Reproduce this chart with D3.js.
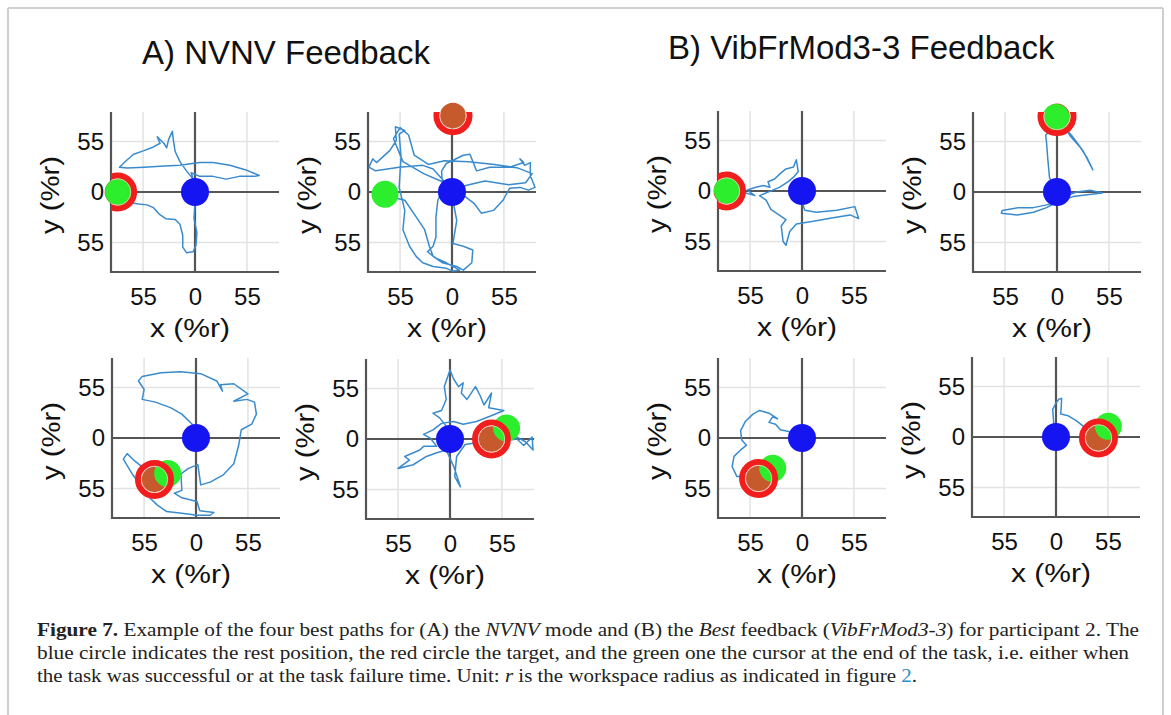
<!DOCTYPE html>
<html>
<head>
<meta charset="utf-8">
<script src="https://cdn.jsdelivr.net/npm/d3@7"></script>
<style>
  body { margin: 0; background: #fff; }
  svg { display: block; }
</style>
</head>
<body>
<svg id="chart" width="1171" height="715"></svg>
<script>
// ---------------- DATA ----------------
const groupTitles = ["A) NVNV Feedback", "B) VibFrMod3-3 Feedback"];
const panelNames = ["A1", "A2", "A3", "A4", "B1", "B2", "B3", "B4"];
const xTicks = [-55, 0, 55];
const yTicks = [-55, 0, 55];
const xTickLabels = ["55", "0", "55"];
const yTickLabels = ["55", "0", "55"];
const xLabel = "x (%r)";
const yLabel = "y (%r)";
const restPos = [0, 0];

// target (red ring) and final cursor (green) positions, in %r
const targets = [[-82, 0], [1, 83], [-44, -45], [44, 0], [-80, 0], [0, 82], [-46, -44], [45, -1]];
const cursors = [[-81, 0], [-71, -2.5], [-30, -38.5], [60, 12], [-79, 0.7], [-1, 81], [-31, -33], [55.5, 11.6]];

const pathA1 = [[0,0],[-2,14],[-9,23],[-16,33],[-21,44],[-23,57],[-24,66],[-28,57],[-30,48],[-33,53],[-40,60],[-37,53],[-44,49],[-54,45],[-65,41],[-73,34],[-80,27],[-72,26],[-54,27],[-37,28],[-16,29],[5,32],[19,32],[37,29],[54,24],[68,18],[63,17],[47,17],[33,14],[19,17],[5,17],[-4,21],[0,7],[0,-12],[-1,-29],[2,-44],[1,-58],[-2,-65],[-9,-66],[-13,-60],[-13,-47],[-16,-35],[-21,-30],[-31,-29],[-38,-24],[-44,-17],[-51,-14],[-60,-13],[-66,-12],[-76,-5],[-81,0]];

const pathA2 = [[0,0],[-6,9],[-20,25],[-31,29],[-56,27],[-81,23],[-88,27],[-84,36],[-80,32],[-66,45],[-59,56],[-60,71],[-50,67],[-56,63],[-54,38],[-56,5],[-50,-20],[-52,-41],[-45,-59],[-38,-70],[-31,-77],[-20,-81],[-6,-83],[1,-86],[8,-85],[-6,-77],[-17,-72],[-26,-65],[-20,-59],[-17,-49],[-17,-27],[-15,-9],[-10,2],[-11,23],[-6,31],[12,40],[19,41],[26,23],[40,27],[61,27],[76,32],[72,36],[77,29],[83,32],[83,18],[88,5],[81,2],[72,5],[61,4],[54,-9],[44,-20],[31,-23],[24,-13],[14,-5],[5,-2],[-12,12],[-30,20],[-52,33],[-62,58],[-55,70],[-46,62],[-40,40],[-25,30],[-8,34],[18,33],[45,30],[70,26],[85,20],[78,10],[60,8],[35,12],[10,6],[1,-9],[5,-31],[1,-56],[12,-59],[22,-63],[21,-77],[12,-85],[5,-81],[-10,-77],[-20,-70],[-24,-59],[-29,-41],[-38,-27],[-50,-9],[-70,-4],[-84,-2],[-71,-2.5]];

const pathA3 = [[0,0],[-4,15],[-15,26],[-27,33],[-43,39],[-57,42],[-55,53],[-61,62],[-57,67],[-37,71],[-16,72],[5,70],[22,62],[28,51],[26,58],[40,59],[55,48],[40,40],[54,42],[62,39],[64,26],[59,15],[48,9],[45,-9],[40,-28],[29,-40],[15,-48],[5,-51],[2,-29],[-8,-33],[-16,-39],[-15,-57],[-23,-60],[-15,-65],[1,-69],[4,-79],[19,-81],[15,-84],[1,-84],[-13,-82],[-31,-80],[-41,-73],[-52,-62],[-59,-51],[-67,-40],[-77,-23],[-73,-17],[-66,-24],[-55,-33],[-41,-37],[-30,-38.5]];

const pathA4 = [[0,0],[-4,14],[-11,23],[-18,28],[-9,31],[-4,43],[-6,57],[0,75],[4,65],[9,57],[14,61],[12,50],[18,43],[27,57],[32,47],[36,37],[44,50],[41,34],[57,31],[43,25],[28,19],[14,16],[4,19],[-9,17],[-18,10],[-28,5],[-21,1],[-14,-8],[-28,-8],[-32,-12],[-48,-19],[-43,-23],[-55,-32],[-39,-28],[-25,-19],[-14,-15],[-4,-12],[4,-30],[11,-52],[5,-41],[7,-19],[16,-6],[28,-4],[43,-3],[57,-2],[71,0],[78,-7],[87,2],[88,-12],[80,-3],[71,2],[60,12]];

const pathB1 = [[0,0],[0,-12],[3,-21],[15,-23],[37,-21],[56,-17],[60,-30],[51,-26],[33,-29],[12,-33],[-6,-36],[-13,-44],[-17,-59],[-20,-55],[-22,-38],[-17,-31],[-33,-20],[-38,-10],[-45,-5],[-31,1],[-24,4],[-15,10],[-9,15],[-4,21],[-6,34],[-9,26],[-17,24],[-22,20],[-29,13],[-36,10],[-34,4],[-41,6],[-49,4],[-58,1],[-50,-5],[-63,-1],[-79,0.7]];

const pathB2 = [[0,0],[7,-5],[21,0],[35,2],[48,-1],[32,-3],[17,-5],[0,-11],[-11,-14],[-25,-17],[-41,-17],[-58,-20],[-59,-23],[-42,-25],[-25,-22],[-11,-17],[-2,-12],[-4,6],[-8,16],[-10,39],[-11,53],[-12,62],[-4,69],[7,72],[14,61],[25,48],[32,37],[38,24],[28,44],[16,61],[9,69],[-1,81]];

const pathB3 = [[0,0],[-14,7],[-23,9],[-28,15],[-35,17],[-31,23],[-26,21],[-35,27],[-45,30],[-52,26],[-60,18],[-65,8],[-64,-2],[-59,-8],[-65,-13],[-72,-20],[-74,-31],[-69,-42],[-63,-42],[-52,-39],[-40,-35],[-31,-33]];

const pathB4 = [[0,0],[-2.5,16],[-3.5,30],[0,37],[3,41],[6,42],[5.5,32],[5,25],[13,23],[21,18],[28.5,12],[41.5,8],[55.5,11.6]];

const paths = [pathA1, pathA2, pathA3, pathA4, pathB1, pathB2, pathB3, pathB4];

// caption pieces
const captionLine1 = [["Figure 7.", "b"], [" Example of the four best paths for (A) the ", ""], ["NVNV", "i"], [" mode and (B) the ", ""], ["Best", "i"], [" feedback (", ""], ["VibFrMod3-3", "i"], [") for participant 2. The", ""]];
const captionLine2 = [["blue circle indicates the rest position, the red circle the target, and the green one the cursor at the end of the task, i.e. either when", ""]];
const captionLine3 = [["the task was successful or at the task failure time. Unit: ", ""], ["r", "i"], [" is the workspace radius as indicated in figure ", ""], ["2", "link"], [".", ""]];

// ---------------- LAYOUT ----------------
const W = 168, H = 160;
const panelPos = [[111,112],[368,112],[112,358],[366,359],[718,111],[973,112],[718,358],[972,357]];

const svg = d3.select("#chart");
const sans = "'Liberation Sans', Arial, Helvetica, sans-serif";
const serif = "'Liberation Serif', 'Times New Roman', serif";

// frame
const frame = svg.append("g").attr("stroke", "#cfcfcf").attr("stroke-width", 2);
frame.append("line").attr("x1", 8).attr("y1", 8).attr("x2", 1163).attr("y2", 8);
frame.append("line").attr("x1", 8).attr("y1", 8).attr("x2", 8).attr("y2", 715);
frame.append("line").attr("x1", 1163).attr("y1", 8).attr("x2", 1163).attr("y2", 715);

// titles
svg.append("text").attr("x", 142).attr("y", 64).attr("font-family", sans).attr("font-size", 33)
  .attr("fill", "#111").text(groupTitles[0]);
svg.append("text").attr("x", 668).attr("y", 59).attr("font-family", sans).attr("font-size", 33)
  .attr("fill", "#111").text(groupTitles[1]);

const x = d3.scaleLinear().domain([-89, 89]).range([0, W]);
const y = d3.scaleLinear().domain([-87, 87]).range([H, 0]);
const line = d3.line().x(d => x(d[0])).y(d => y(d[1]));

panelNames.forEach((name, i) => {
  const [px, py] = panelPos[i];
  const g = svg.append("g").attr("transform", `translate(${px},${py})`);

  const clipId = "clip" + name;
  g.append("clipPath").attr("id", clipId).append("rect")
    .attr("x", 0).attr("y", 0).attr("width", W).attr("height", H);

  // grid
  g.append("g").selectAll("line").data(xTicks.filter(d => d !== 0)).join("line")
    .attr("x1", d => x(d)).attr("x2", d => x(d)).attr("y1", 0).attr("y2", H)
    .attr("stroke", "#e3e3e3").attr("stroke-width", 1.5);
  g.append("g").selectAll("line").data(yTicks.filter(d => d !== 0)).join("line")
    .attr("y1", d => y(d)).attr("y2", d => y(d)).attr("x1", 0).attr("x2", W)
    .attr("stroke", "#e3e3e3").attr("stroke-width", 1.5);

  // zero lines
  g.append("line").attr("x1", x(0)).attr("x2", x(0)).attr("y1", 0).attr("y2", H)
    .attr("stroke", "#555").attr("stroke-width", 2.2);
  g.append("line").attr("x1", 0).attr("x2", W).attr("y1", y(0)).attr("y2", y(0))
    .attr("stroke", "#555").attr("stroke-width", 2.2);

  // axes
  const ax = g.append("g").attr("transform", `translate(0,${H})`)
    .call(d3.axisBottom(x).tickValues(xTicks).tickFormat((d, k) => xTickLabels[k]).tickSize(0).tickPadding(16));
  const ay = g.append("g")
    .call(d3.axisLeft(y).tickValues(yTicks).tickFormat((d, k) => yTickLabels[k]).tickSize(0).tickPadding(7));
  [ax, ay].forEach(a => {
    a.select(".domain").remove();
    a.selectAll("text").attr("font-family", sans).attr("font-size", 24).attr("fill", "#111");
  });
  g.append("line").attr("x1", 0).attr("x2", 0).attr("y1", 0).attr("y2", H + 1)
    .attr("stroke", "#555").attr("stroke-width", 2.2);
  g.append("line").attr("x1", -1).attr("x2", W).attr("y1", H).attr("y2", H)
    .attr("stroke", "#555").attr("stroke-width", 2.2);

  // axis titles
  g.append("text").attr("x", x(0) - 5).attr("y", H + 65).attr("text-anchor", "middle")
    .attr("font-family", sans).attr("font-size", 25).attr("fill", "#111")
    .attr("textLength", 80).attr("lengthAdjust", "spacingAndGlyphs").text(xLabel);
  g.append("text").attr("transform", `translate(-52,${y(0) + 3}) rotate(-90)`).attr("text-anchor", "middle")
    .attr("font-family", sans).attr("font-size", 25).attr("fill", "#111")
    .attr("textLength", 78).attr("lengthAdjust", "spacingAndGlyphs").text(yLabel);

  // path
  g.append("path").datum(paths[i]).attr("d", line).attr("fill", "none")
    .attr("stroke", "#3a8bcd").attr("stroke-width", 1.5).attr("stroke-linejoin", "round");

  // rest position
  g.append("circle").attr("cx", x(restPos[0])).attr("cy", y(restPos[1])).attr("r", 14).attr("fill", "#1515f2");

  // target inner (brown)
  const t = targets[i], c = cursors[i];
  g.append("circle").attr("cx", x(t[0])).attr("cy", y(t[1])).attr("r", 13).attr("fill", "#c65a2c");
  // cursor (green)
  g.append("circle").attr("cx", x(c[0])).attr("cy", y(c[1])).attr("r", 13.5).attr("fill", "#2cee2c");
  // target ring (red), clipped to the axes
  const ring = g.append("g").attr("clip-path", `url(#${clipId})`);
  ring.append("circle").attr("cx", x(t[0])).attr("cy", y(t[1])).attr("r", 16.5)
    .attr("fill", "none").attr("stroke", "#f21e1e").attr("stroke-width", 6);
  ring.append("circle").attr("cx", x(t[0])).attr("cy", y(t[1])).attr("r", 13.2)
    .attr("fill", "none").attr("stroke", "#f7c9bf").attr("stroke-width", 1).attr("opacity", 0.8);
});

// caption
function captionLine(parts, yy, len) {
  const tx = svg.append("text").attr("x", 37).attr("y", yy).attr("font-family", serif)
    .attr("font-size", 18.5).attr("fill", "#222")
    .attr("textLength", len).attr("lengthAdjust", "spacingAndGlyphs");
  parts.forEach(([s, st]) => {
    const sp = tx.append("tspan").text(s);
    if (st === "b") sp.attr("font-weight", "bold");
    if (st === "i") sp.attr("font-style", "italic");
    if (st === "link") sp.attr("fill", "#2a8fd0");
  });
}
captionLine(captionLine1, 636, 1102);
captionLine(captionLine2, 659, 1092);
captionLine(captionLine3, 682, 880);
</script>
</body>
</html>
